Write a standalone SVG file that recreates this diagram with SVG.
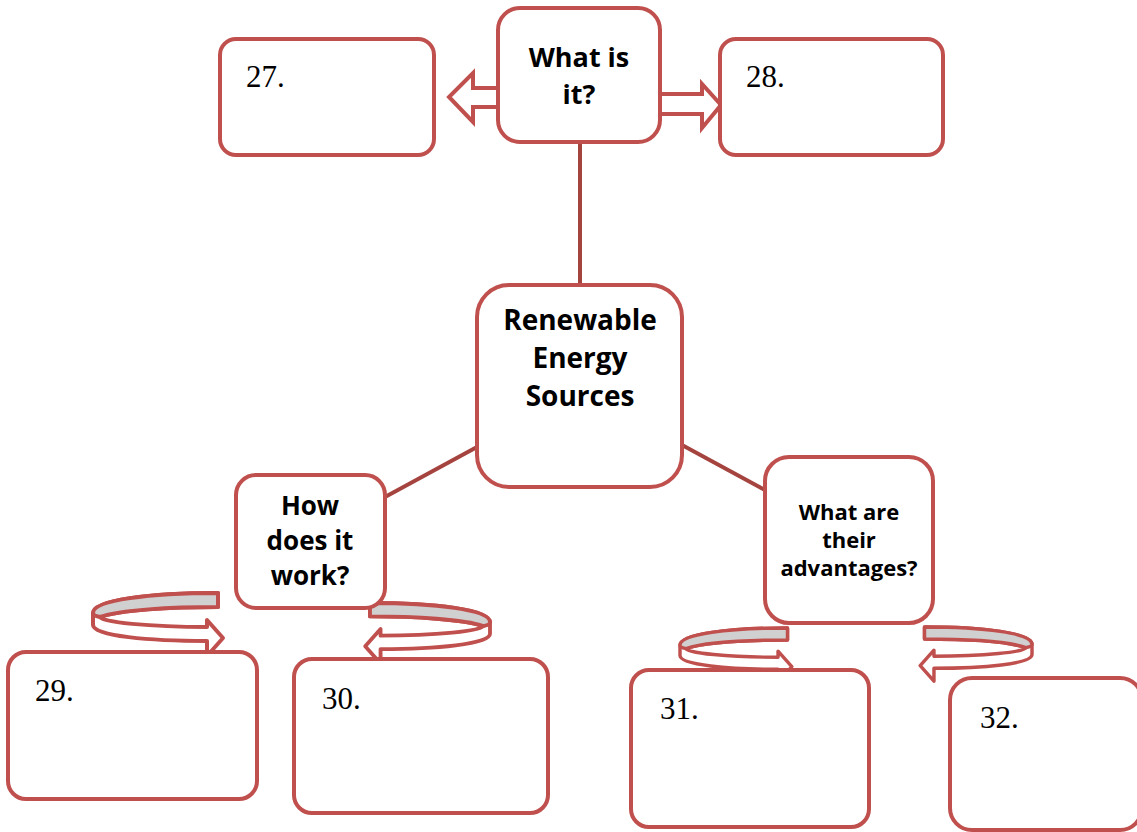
<svg xmlns="http://www.w3.org/2000/svg" width="1137" height="832" viewBox="0 0 1137 832">
<style>
.box{fill:#fff;stroke:#c0504d;stroke-width:4}
.lbl{font-family:"Open Sans",Lato,sans-serif;font-weight:bold;fill:#000;text-anchor:middle}
.num{font-family:"Liberation Serif",serif;font-size:31px;fill:#000}
.conn{stroke:#a5433f;stroke-width:4;fill:none}
.blk{fill:#fff;stroke:#c0504d;stroke-width:4;stroke-linejoin:miter}
.gray{fill:#d0d0d0;stroke:#c0504d;stroke-width:4;stroke-linejoin:round}
</style>
<defs>
<g id="curl">
<path class="blk" style="stroke-linejoin:round" d="M125,0 C57,0 0,7 0,20 L0,32 C0,43 57,48 114,48 L114,63 L130,45 L114,27 L114,34 C57,34 7,29 7,24 C27,17 77,14 125,14 Z"/>
<path class="gray" d="M125,0 C57,0 0,7 0,20 C0,22 2,23 7,24 C27,17 77,14 125,14 Z"/>
</g>
</defs>
<g id="connectors">
<line class="conn" x1="580" y1="142" x2="580" y2="285"/>
<line class="conn" x1="385" y1="497" x2="477" y2="447"/>
<line class="conn" x1="682" y1="445" x2="765" y2="490"/>
<path class="blk" d="M503,88 L473,88 L473,73 L449,97 L473,122 L473,107 L503,107 Z"/>
<path class="blk" d="M660,94 L702,94 L702,84 L721,105 L702,128 L702,114 L660,114 Z"/>
<use href="#curl" transform="translate(93,593)"/>
<use href="#curl" transform="translate(490,603) scale(-0.96,0.96)"/>
<use href="#curl" transform="translate(680,628) scale(0.86)"/>
<use href="#curl" transform="translate(1032,627) scale(-0.86,0.86)"/>
</g>
<g id="n27"><rect class="box" x="220" y="39" width="214" height="116" rx="16"/><text class="num" x="246" y="87">27.</text></g>
<g id="nwhat"><rect class="box" x="498" y="8" width="162" height="134" rx="22"/><text class="lbl" font-size="27" x="579" y="67">What is</text><text class="lbl" font-size="27" x="579" y="104">it?</text></g>
<g id="n28"><rect class="box" x="720" y="39" width="223" height="116" rx="16"/><text class="num" x="746" y="87">28.</text></g>
<g id="ncenter"><rect class="box" x="477" y="285" width="205" height="202" rx="32"/><text class="lbl" font-size="28" x="580" y="330">Renewable</text><text class="lbl" font-size="28" x="580" y="368">Energy</text><text class="lbl" font-size="28" x="580" y="406">Sources</text></g>
<g id="nhow"><rect class="box" x="236" y="475" width="149" height="133" rx="20"/><text class="lbl" font-size="26" x="310" y="515">How</text><text class="lbl" font-size="26" x="310" y="550">does it</text><text class="lbl" font-size="26" x="310" y="585">work?</text></g>
<g id="nadv"><rect class="box" x="765" y="457" width="168" height="166" rx="24"/><text class="lbl" font-size="22" x="849" y="520">What are</text><text class="lbl" font-size="22" x="849" y="548">their</text><text class="lbl" font-size="22" x="849" y="576">advantages?</text></g>
<g id="n29"><rect class="box" x="8" y="652" width="249" height="147" rx="18"/><text class="num" x="35" y="701">29.</text></g>
<g id="n30"><rect class="box" x="294" y="659" width="254" height="154" rx="18"/><text class="num" x="322" y="709">30.</text></g>
<g id="n31"><rect class="box" x="631" y="670" width="238" height="157" rx="18"/><text class="num" x="660" y="719">31.</text></g>
<g id="n32"><rect class="box" x="950" y="678" width="192" height="152" rx="22"/><text class="num" x="980" y="728">32.</text></g>
</svg>
